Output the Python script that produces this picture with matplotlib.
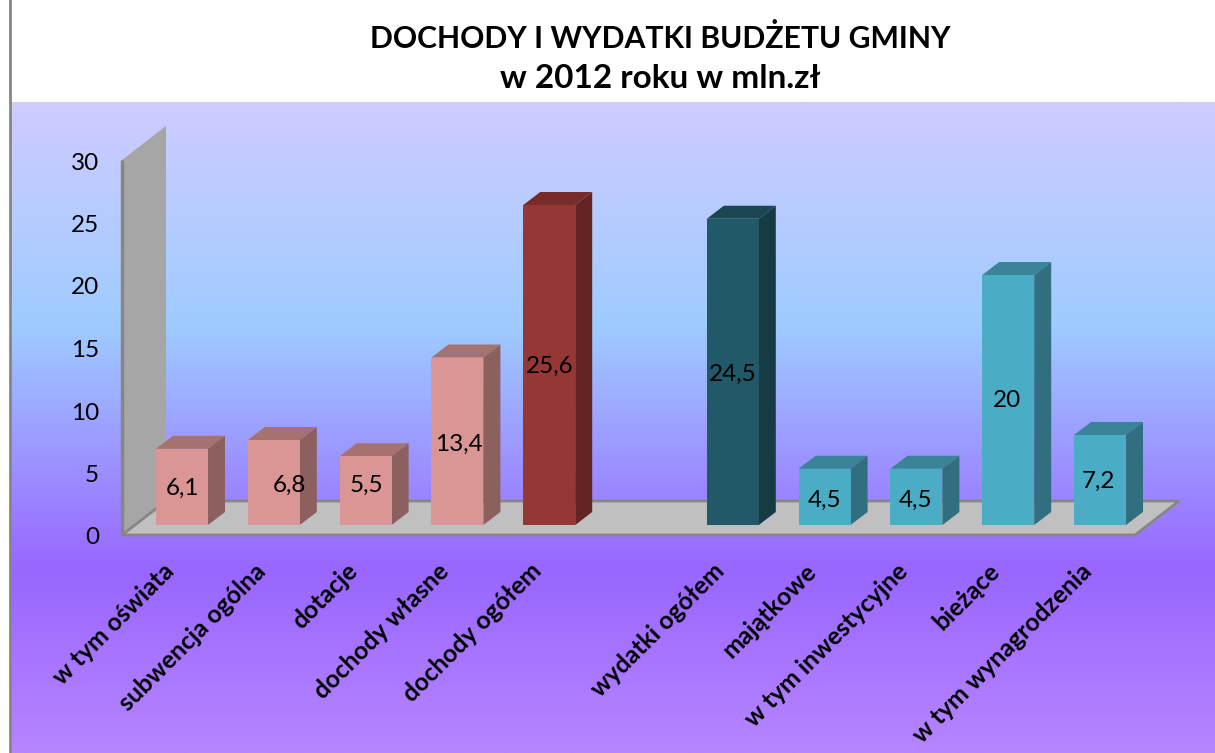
"""Budget chart: 3D look bars drawn on a flat axes with gradient background."""
import numpy as np
import matplotlib
matplotlib.use('Agg')
import matplotlib.pyplot as plt
from matplotlib.colors import LinearSegmentedColormap
from matplotlib.patches import Polygon, Rectangle

plt.rcParams['font.family'] = ['Lato', 'DejaVu Sans']

categories = ['w tym oświata', 'subwencja ogólna', 'dotacje', 'dochody własne',
              'dochody ogółem', '', 'wydatki ogółem', 'majątkowe',
              'w tym inwestycyjne', 'bieżące', 'w tym wynagrodzenia']
values = [6.1, 6.8, 5.5, 13.4, 25.6, 0, 24.5, 4.5, 4.5, 20, 7.2]
labels = ['6,1', '6,8', '5,5', '13,4', '25,6', '', '24,5', '4,5', '4,5', '20', '7,2']
# label positions as placed by hand in the original
label_x = [0.01, 1.17, 2.01, 3.02, 4.0, 5, 6.0, 7.0, 7.99, 8.99, 9.98]
label_y = [2.9, 3.2, 3.14, 6.43, 12.66, 0, 12.09, 1.94, 1.94, 9.94, 3.49]
y_ticks = [0, 5, 10, 15, 20, 25, 30]

pink = ('#D99694', '#A6726F', '#8C605E')
red = ('#953735', '#772C2A', '#632523')
dark = ('#215968', '#1A4753', '#163B45')
teal = ('#4BACC6', '#3A8499', '#316F80')
palette = [pink, pink, pink, pink, red, pink, dark, teal, teal, teal, teal]

W, H = 1215, 753
PX_X = 91.8
PX_Y = 12.5
X0 = 182
Y0 = 525
BAR_W = 52 / PX_X
DX = 17 / PX_X
DY = 13 / PX_Y
FRONT = -10 / PX_Y   # floor front edge sits below the bar bases


def xd(px):
    return (px - X0) / PX_X


fig = plt.figure(figsize=(W / 100, H / 100), dpi=100, facecolor='white')

# gradient background
bg = fig.add_axes([10 / W, 0, 1 - 10 / W, 1 - 102 / H])
cmap = LinearSegmentedColormap.from_list('bg', [
    (0.0, '#CFCBFF'), (0.34, '#9FCCFF'), (0.72, '#9966FF'), (1.0, '#B685FF')])
bg.imshow(np.linspace(0, 1, 400).reshape(-1, 1), aspect='auto', cmap=cmap)
bg.axis('off')

ax = fig.add_axes([0, 0, 1, 1])
ax.patch.set_alpha(0)
ax.set_xlim(xd(0), xd(W))
ax.set_ylim((Y0 - H) / PX_Y, Y0 / PX_Y)
ax.axis('off')

# back wall and floor
x_wall = xd(122)
x_end = xd(1135)
wall_dx = 44 / PX_X
wall_dy = 34 / PX_Y
ax.add_patch(Polygon([(x_wall, FRONT), (x_wall, y_ticks[-1] + FRONT),
                      (x_wall + wall_dx, y_ticks[-1] + FRONT + wall_dy),
                      (x_wall + wall_dx, FRONT + wall_dy)],
                     fc='#A6A6A6', ec='none', zorder=1))
ax.plot([x_wall, x_wall], [FRONT, y_ticks[-1] + FRONT], color='#868686', lw=2.5,
        zorder=1.5, solid_capstyle='butt')
ax.add_patch(Polygon([(x_wall, FRONT), (x_end, FRONT),
                      (x_end + wall_dx, FRONT + wall_dy), (x_wall + wall_dx, FRONT + wall_dy)],
                     fc='#C0C0C0', ec='#868686', lw=2, zorder=2))

# bars: front face plus top and side faces
for i, (v, col) in enumerate(zip(values, palette)):
    if v == 0:
        continue
    l = i - BAR_W / 2
    r = i + BAR_W / 2
    ax.add_patch(Polygon([(l, v), (r, v), (r + DX, v + DY), (l + DX, v + DY)],
                         fc=col[1], ec='none', zorder=3))
    ax.add_patch(Polygon([(r, 0), (r + DX, DY), (r + DX, v + DY), (r, v)],
                         fc=col[2], ec='none', zorder=3))
    ax.add_patch(Rectangle((l, 0), BAR_W, v, fc=col[0], ec='none', zorder=4))

for x, y, s in zip(label_x, label_y, labels):
    ax.text(x, y, s, ha='center', va='center', fontsize=17.5, color='black', zorder=5)

for t in y_ticks:
    ax.text(xd(99), t + FRONT - 0.24, str(t), ha='right', va='center', fontsize=17.5, color='black')

for i, c in enumerate(categories):
    if c:
        ax.text(i - 0.13, -3.4, c, rotation=45, rotation_mode='anchor', ha='right',
                va='center', fontsize=17.8, fontweight='bold', color='black')

fig.text(660 / W, 1 - 38 / H, 'DOCHODY I WYDATKI BUDŻETU GMINY', ha='center', va='center',
         fontsize=21.7, fontweight='bold')
fig.text(660 / W, 1 - 78 / H, 'w 2012 roku w mln.zł', ha='center', va='center',
         fontsize=24, fontweight='bold')

# left frame line
fig.add_artist(plt.Line2D([9.5 / W, 9.5 / W], [0, 1], color='#868686', lw=2))

fig.savefig('out.png', dpi=100)
